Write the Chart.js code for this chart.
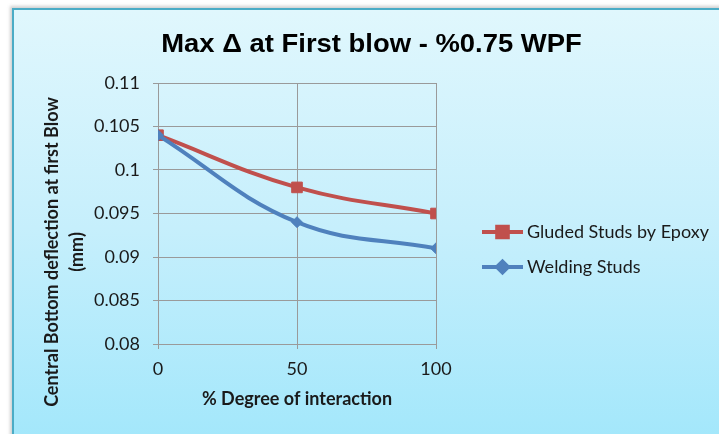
<!DOCTYPE html>
<html>
<head>
<meta charset="utf-8">
<script src="https://cdn.jsdelivr.net/npm/chart.js@4.4.1/dist/chart.umd.min.js"></script>
<style>
  html, body { margin: 0; padding: 0; background: #ffffff; }
  #wrap { position: relative; width: 719px; height: 434px; overflow: hidden; }
  #frame {
    position: absolute; left: 12px; top: 8px; width: 720px; height: 440px;
    border: 2px solid #4bacc6; box-sizing: border-box;
    background: linear-gradient(to bottom, #e0f7fd 0%, #c6effc 50%, #a2e7fb 100%);
    box-shadow: -2px -2px 3px rgba(120,120,120,0.35);
  }
  #c { position: absolute; left: 0; top: 0; }
</style>
</head>
<body>
<div id="wrap">
  <div id="frame"></div>
  <canvas id="c" width="719" height="434"></canvas>
</div>
<script>
// Degree of interaction (%) and maximum deflection at first blow (mm)
const interaction = [0, 50, 100];
const glued = [0.104, 0.098, 0.095];
const welding = [0.104, 0.094, 0.091];
const yTicks = [0.08, 0.085, 0.09, 0.095, 0.1, 0.105, 0.11];

const seriesNames = ['Gluded Studs by Epoxy', 'Welding Studs'];
const chartTitle = 'Max \u0394 at First blow - %0.75 WPF';
const xTitle = '% Degree of interaction';
const yTitle = ['Central Bottom deflection at first Blow', '(mm)'];

const RED = '#c0504d';
const BLUE = '#4f81bd';
const GRID = '#9a9a9a';
const TEXT = '#1a1a1a';
const SANS = 'Lato, "Open Sans", sans-serif';

const toPoints = ys => interaction.map((x, i) => ({ x, y: ys[i] }));

// Title, axis titles and a line-with-marker legend
const decor = {
  id: 'decor',
  afterDraw(chart) {
    const { ctx, chartArea: a } = chart;
    ctx.save();

    // chart title, slightly widened
    ctx.save();
    ctx.fillStyle = '#000';
    ctx.font = 'bold 25px "Liberation Sans", Arial, sans-serif';
    ctx.textAlign = 'center';
    ctx.textBaseline = 'alphabetic';
    ctx.translate(371.5, 52);
    ctx.scale(1.097, 1);
    ctx.fillText(chartTitle, 0, 0);
    ctx.restore();

    ctx.fillStyle = TEXT;
    ctx.font = 'bold 18px ' + SANS;
    ctx.textAlign = 'center';
    ctx.textBaseline = 'middle';
    ctx.fillText(xTitle, (a.left + a.right) / 2, 399);

    ctx.save();
    ctx.translate(64, 252);
    ctx.rotate(-Math.PI / 2);
    ctx.fillText(yTitle[0], 0, -12);
    ctx.fillText(yTitle[1], 0, 13);
    ctx.restore();

    const rows = [
      { name: seriesNames[0], color: RED, style: 'rect', r: 7.5, y: 232 },
      { name: seriesNames[1], color: BLUE, style: 'rectRot', r: 5.5, y: 267 }
    ];
    rows.forEach(row => {
      ctx.strokeStyle = row.color;
      ctx.lineWidth = 4;
      ctx.beginPath();
      ctx.moveTo(482, row.y);
      ctx.lineTo(523, row.y);
      ctx.stroke();
      ctx.fillStyle = row.color;
      Chart.helpers.drawPoint(ctx, { pointStyle: row.style, radius: row.r, borderWidth: 1 }, 502.5, row.y);
      ctx.fill();
      ctx.fillStyle = TEXT;
      ctx.font = '18px ' + SANS;
      ctx.textAlign = 'left';
      ctx.fillText(row.name, 527, row.y);
    });
    ctx.restore();
  }
};

new Chart(document.getElementById('c'), {
  type: 'line',
  data: {
    datasets: [
      {
        label: seriesNames[0], data: toPoints(glued), order: 1,
        borderColor: RED, backgroundColor: RED, borderWidth: 4,
        pointStyle: 'rect', pointRadius: 7.5, pointBorderWidth: 1, tension: 0.4
      },
      {
        label: seriesNames[1], data: toPoints(welding), order: 0,
        borderColor: BLUE, backgroundColor: BLUE, borderWidth: 4,
        pointStyle: 'rectRot', pointRadius: 5.5, pointBorderWidth: 1, tension: 0.4
      }
    ]
  },
  options: {
    responsive: false,
    animation: false,
    events: [],
    layout: { padding: { left: 0, top: 83, right: 283, bottom: 0 } },
    plugins: { legend: { display: false }, title: { display: false }, tooltip: { enabled: false } },
    scales: {
      x: {
        type: 'linear', min: 0, max: 100,
        afterBuildTicks: s => { s.ticks = interaction.map(v => ({ value: v })); },
        afterFit: s => { s.height = 90; },
        grid: { color: GRID, tickLength: 5, lineWidth: 1 },
        border: { color: GRID },
        ticks: { color: TEXT, font: { family: SANS, size: 18 }, padding: 9, maxRotation: 0 }
      },
      y: {
        min: 0.08, max: 0.11,
        afterBuildTicks: s => { s.ticks = yTicks.map(v => ({ value: v })); },
        afterFit: s => { s.width = 158; },
        grid: { color: GRID, tickLength: 5, lineWidth: 1 },
        border: { color: GRID },
        ticks: {
          color: TEXT, font: { family: SANS, size: 18 }, padding: 13,
          callback: v => String(+v.toFixed(3))
        }
      }
    }
  },
  plugins: [decor]
});
</script>
</body>
</html>
